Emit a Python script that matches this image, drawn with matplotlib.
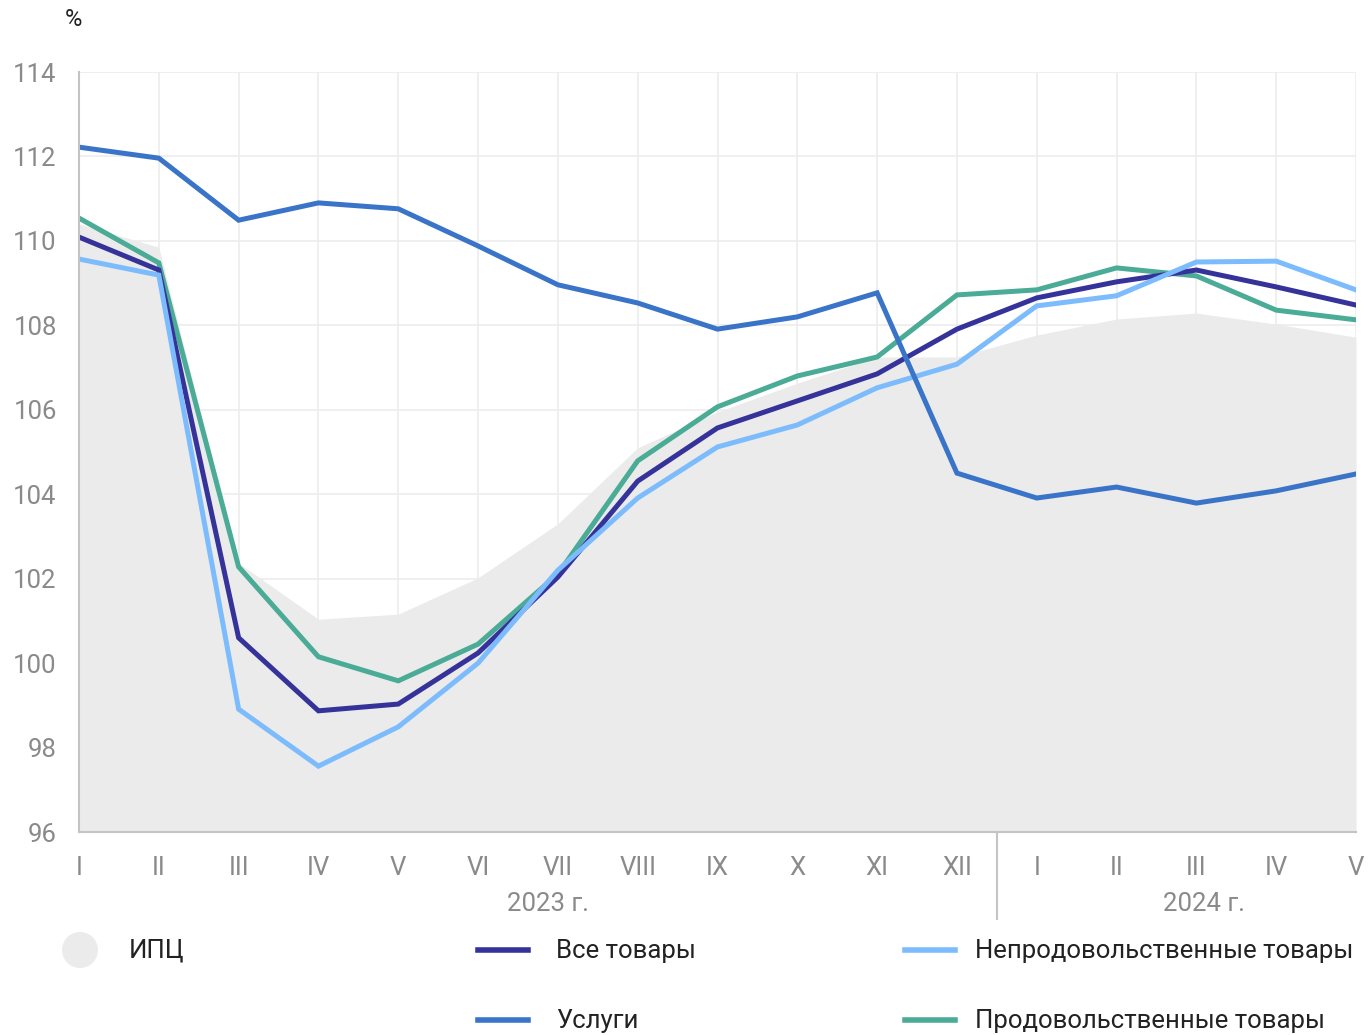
import matplotlib.pyplot as plt
from matplotlib.lines import Line2D
from matplotlib.patches import Ellipse
import numpy as np

plt.rcParams['font.family'] = ['Roboto', 'DejaVu Sans']

# -------------------------------------------------------------#
#   данные, % г/г
# -------------------------------------------------------------#
months = ['I', 'II', 'III', 'IV', 'V', 'VI', 'VII', 'VIII', 'IX', 'X', 'XI', 'XII',
          'I', 'II', 'III', 'IV', 'V']
cpi = [110.4, 109.85, 102.37, 101.04, 101.16, 102.02, 103.3, 105.1, 105.95, 106.63,
       107.25, 107.25, 107.77, 108.15, 108.29, 108.03, 107.72]
all_goods = [110.09, 109.31, 100.6, 98.87, 99.03, 100.24, 102.04, 104.31, 105.57, 106.21,
             106.85, 107.91, 108.65, 109.03, 109.31, 108.91, 108.48]
non_food = [109.57, 109.19, 98.91, 97.56, 98.49, 100.0, 102.2, 103.91, 105.12, 105.64,
            106.52, 107.08, 108.46, 108.7, 109.5, 109.52, 108.84]
services = [112.22, 111.96, 110.49, 110.9, 110.76, 109.88, 108.96, 108.53, 107.91, 108.2,
            108.77, 104.5, 103.91, 104.17, 103.79, 104.08, 104.48]
food = [110.54, 109.48, 102.28, 100.15, 99.58, 100.45, 102.11, 104.79, 106.07, 106.8,
        107.25, 108.72, 108.84, 109.36, 109.17, 108.36, 108.13]
years = ['2023 г.', '2024 г.']

c_cpi = '#ebebeb'
c_all = '#35339a'
c_non = '#7dbcfc'
c_srv = '#3a74c8'
c_food = '#4aab96'
c_tick = '#8a8a8a'

fig = plt.figure(figsize=(13.68, 10.35), dpi=100)
ax = fig.add_axes([79 / 1368, 1 - 832 / 1035, (1356 - 79) / 1368, (832 - 72) / 1035])

x = np.arange(len(months))
ax.fill_between(x, 96, cpi, color=c_cpi, lw=0, zorder=1)
lw = 3.6
ax.plot(x, food, color=c_food, lw=lw, zorder=3, solid_joinstyle='miter')
ax.plot(x, all_goods, color=c_all, lw=lw, zorder=4, solid_joinstyle='miter')
ax.plot(x, non_food, color=c_non, lw=lw, zorder=5, solid_joinstyle='miter')
ax.plot(x, services, color=c_srv, lw=lw, zorder=6, solid_joinstyle='miter')

ax.set_xlim(0, len(months) - 1)
ax.set_ylim(96, 114)
ax.set_yticks(np.arange(96, 115, 2))
ax.set_xticks(x)
ax.set_xticklabels(months)
ax.tick_params(axis='both', length=0, labelsize=18.5, labelcolor=c_tick)
ax.tick_params(axis='x', pad=17.5)
ax.tick_params(axis='y', pad=16)
ax.grid(True, color='#ececec', lw=1.2, zorder=0)
ax.set_axisbelow(True)
for s in ['top', 'right']:
    ax.spines[s].set_visible(False)
ax.spines['left'].set_color('#c4c4c4')
ax.spines['left'].set_linewidth(1.5)
ax.spines['bottom'].set_color('#c4c4c4')
ax.spines['bottom'].set_linewidth(1.5)
ax.spines['left'].set_zorder(7)
ax.spines['bottom'].set_zorder(7)

# разделитель годов и подписи годов
ax.plot([11.5, 11.5], [0, -0.115], transform=ax.get_xaxis_transform(), color='#c4c4c4',
        lw=1.5, clip_on=False)
ax.text(5.88, -0.095, years[0], transform=ax.get_xaxis_transform(), ha='center', va='center',
        fontsize=18.5, color=c_tick)
ax.text(14.1, -0.095, years[1], transform=ax.get_xaxis_transform(), ha='center', va='center',
        fontsize=18.5, color=c_tick)

fig.text(73 / 1368, 1 - 20 / 1035, '%', ha='center', va='center', fontsize=17, color='#222222')

# -------------------------------------------------------------#
#   легенда
# -------------------------------------------------------------#
def fx(px):
    return px / 1368


def fy(py):
    return 1 - py / 1035


fig.add_artist(Ellipse((fx(80), fy(950)), 36 / 1368, 36 / 1035, transform=fig.transFigure,
                       color=c_cpi, lw=0))
fig.text(fx(129), fy(951), 'ИПЦ', ha='left', va='center', fontsize=18.5, color='#222222')

items = [(478, 950, 556, c_all, 'Все товары'),
         (905, 950, 975, c_non, 'Непродовольственные товары'),
         (478, 1020, 556, c_srv, 'Услуги'),
         (905, 1020, 975, c_food, 'Продовольственные товары')]
for px, py, tx, col, lab in items:
    fig.add_artist(Line2D([fx(px), fx(px + 50)], [fy(py), fy(py)], transform=fig.transFigure,
                          color=col, lw=4))
    fig.text(fx(tx), fy(py + 1), lab, ha='left', va='center', fontsize=18.5, color='#222222')

plt.savefig('out.png', dpi=100)
